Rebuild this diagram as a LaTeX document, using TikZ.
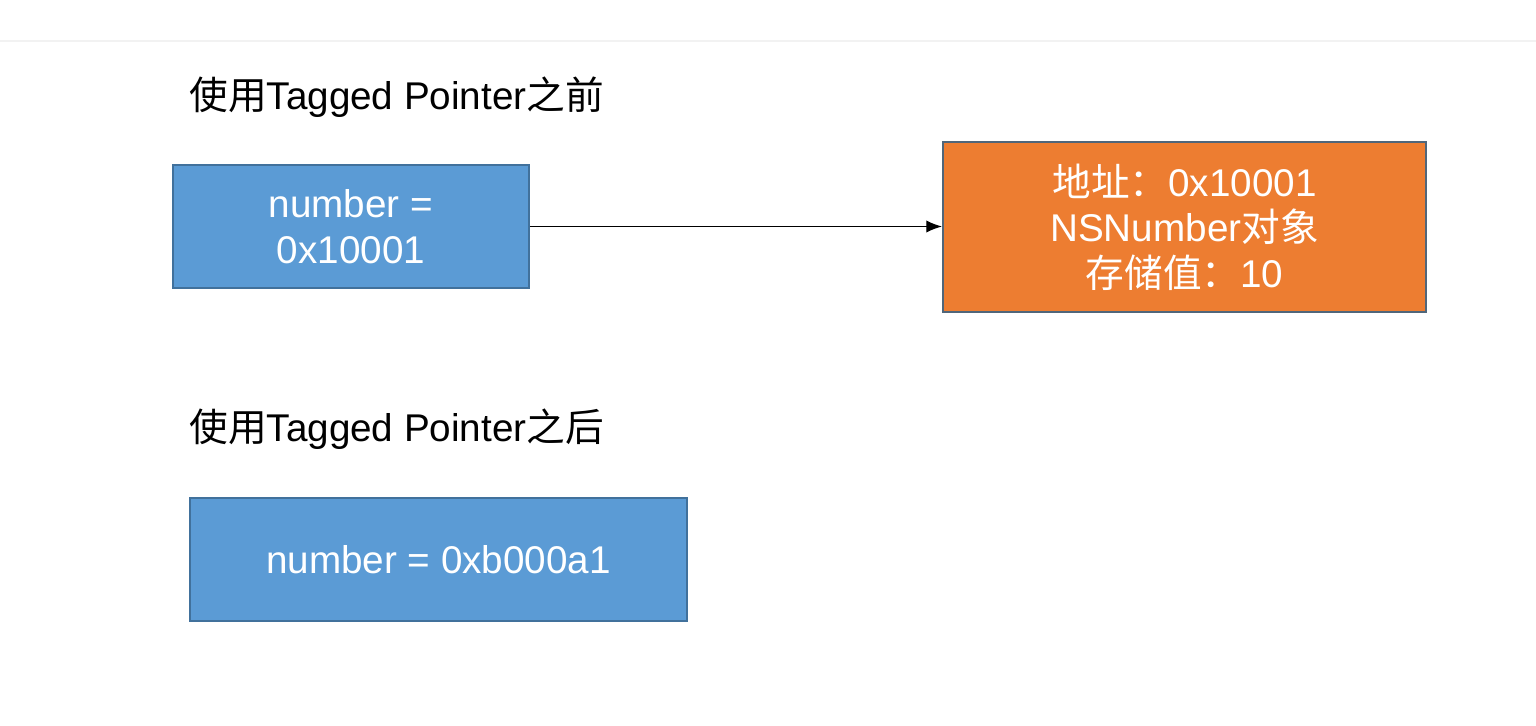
\documentclass[tikz,border=0pt]{standalone}
\usepackage{fontspec}
\setmainfont{Liberation Sans}
\newfontfamily\cjk{Noto Sans CJK SC}
\usepackage{xcolor}
\usetikzlibrary{arrows.meta}
\definecolor{boxblue}{HTML}{5B9BD5}
\definecolor{boxblueline}{HTML}{41719C}
\definecolor{boxorange}{HTML}{ED7D31}
\definecolor{boxorangeline}{HTML}{50667A}
\definecolor{divider}{HTML}{F2F2F2}

\begin{document}
\begin{tikzpicture}[x=0.02cm, y=-0.02cm,
    heading/.style={anchor=base west, inner sep=0pt, font=\fontsize{22}{26}\selectfont},
    membox/.style={draw, line width=1.1pt, text=white, align=center, inner sep=0pt,
      font=\fontsize{22}{26}\selectfont}]
  \useasboundingbox (0,0) rectangle (1536,726);
  \draw[divider, line width=1.7pt] (0,41) -- (1536,41);
  \node[heading] (before) at (189,110) {{\cjk 使用}Tagged Pointer{\cjk 之前}};
  \node[membox, fill=boxblue, draw=boxblueline, minimum width=7.12cm, minimum height=2.46cm]
    (ptr) at (351,226.5) {number =\\0x10001};
  \node[membox, fill=boxorange, draw=boxorangeline, minimum width=9.66cm, minimum height=3.4cm]
    (obj) at (1184.5,227) {{\cjk 地址：}0x10001\\NSNumber{\cjk 对象}\\{\cjk 存储值：}10};
  \draw[-{Latex[length=9pt, width=7pt]}, line width=0.8pt] (ptr.east) -- (ptr.east -| obj.west);
  \node[heading] (after) at (189,441) {{\cjk 使用}Tagged Pointer{\cjk 之后}};
  \node[membox, fill=boxblue, draw=boxblueline, minimum width=9.94cm, minimum height=2.46cm]
    (tagged) at (438.5,559.5) {number = 0xb000a1};
\end{tikzpicture}
\end{document}
